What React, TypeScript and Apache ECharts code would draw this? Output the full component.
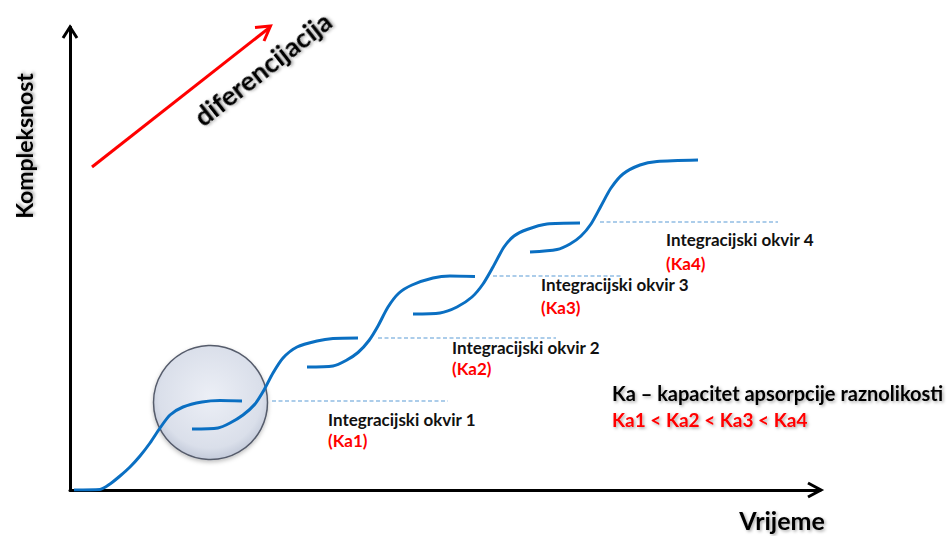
import React, { useEffect, useRef } from "react";
import * as echarts from "echarts";

// Chart units: x = time (0..150), y = complexity (0..92.6)
const curve1: [number, number][] = [
  [0.8, 0], [6, 0.1], [8, 1.2], [10, 2.8], [12, 4.6], [14, 6.8], [16, 9.4],
  [18, 12.4], [20, 15], [22.6, 16.6], [26.4, 17.6], [30, 17.9], [34.4, 17.8],
];
const curve2: [number, number][] = [
  [24.4, 12.2], [29.6, 12.4], [32, 13.4], [34.6, 15], [37, 17.2], [38.8, 20],
  [40.6, 23.4], [42.6, 26.4], [45.4, 28.6], [49.4, 29.8], [52.6, 30.3], [57.6, 30.4],
];
const curve3: [number, number][] = [
  [47.4, 24.6], [52.6, 24.8], [55.2, 25.9], [57.6, 27.5], [59.8, 29.9], [61.6, 32.8],
  [63.6, 36.6], [65.8, 39.4], [68.4, 41], [72.6, 42.4], [76, 42.8], [81, 42.7],
];
const curve4: [number, number][] = [
  [68.6, 35.2], [74, 35.4], [77.4, 36.6], [80.4, 38.6], [82.6, 41.2], [84.6, 44.6],
  [86.8, 48.6], [88.8, 50.8], [91.4, 52.1], [95.4, 53.2], [102, 53.4],
];
const curve5: [number, number][] = [
  [92, 47.6], [97.4, 48.1], [100, 49.2], [102.2, 50.8], [104.2, 53.2], [106.2, 56.8],
  [108.2, 60.4], [110.6, 63.2], [114, 65], [117.4, 65.7], [125.6, 66],
];
const curves = [curve1, curve2, curve3, curve4, curve5];

const dashLevels = [17.8, 30.4, 42.8, 53.6];
const dashStarts = [40.4, 61.6, 84.6, 106];
const dashEnds = [75.6, 97.2, 110.4, 141.6];

const frameLabels = [
  "Integracijski okvir 1",
  "Integracijski okvir 2",
  "Integracijski okvir 3",
  "Integracijski okvir 4",
];
const capacityLabels = ["(Ka1)", "(Ka2)", "(Ka3)", "(Ka4)"];
const labelPos: [number, number, number][] = [
  [328, 419, 440],
  [452, 347, 368],
  [541, 284, 307],
  [666, 239, 263],
];

const FONT = "Lato, 'Open Sans', sans-serif";
const shadow = {
  textShadowColor: "rgba(0,0,0,0.35)",
  textShadowBlur: 3,
  textShadowOffsetX: 1.5,
  textShadowOffsetY: 1.5,
};

export default function App() {
  const ref = useRef<HTMLDivElement>(null);
  useEffect(() => {
    if (!ref.current) return;
    const chart = echarts.init(ref.current, null, { renderer: "svg" });

    const series: any[] = [];
    dashLevels.forEach((y, i) => {
      series.push({
        type: "line",
        data: [[dashStarts[i], y], [dashEnds[i], y]],
        symbol: "none",
        z: 3,
        lineStyle: { color: "#5b9bd5", width: 1.1, type: [4, 2.5] },
        silent: true,
      });
    });
    curves.forEach((c) => {
      series.push({
        type: "line",
        data: c,
        symbol: "none",
        smooth: 0.25,
        z: 5,
        lineStyle: { color: "#0a6fc2", width: 3 },
        silent: true,
      });
    });

    const graphic: any[] = [
      {
        type: "circle",
        z: 1,
        shape: { cx: 210.5, cy: 402.5, r: 57 },
        style: {
          fill: new echarts.graphic.RadialGradient(0.5, 0.45, 0.6, [
            { offset: 0, color: "#eceff6" },
            { offset: 0.75, color: "#dadfea" },
            { offset: 1, color: "#b8c0d2" },
          ]),
          stroke: "#555b6b",
          lineWidth: 1.5,
          shadowColor: "rgba(0,0,0,0.25)",
          shadowBlur: 4,
          shadowOffsetY: 2,
        },
      },
      {
        type: "polyline",
        z: 10,
        shape: { points: [[63, 38], [70, 27], [77, 38]] },
        style: { stroke: "#000", lineWidth: 3, fill: "none" },
      },
      {
        type: "polyline",
        z: 10,
        shape: { points: [[808, 483], [821, 490], [808, 497]] },
        style: { stroke: "#000", lineWidth: 3, fill: "none" },
      },
      {
        type: "line",
        z: 10,
        shape: { x1: 92, y1: 167, x2: 269, y2: 28 },
        style: { stroke: "#ff0000", lineWidth: 3 },
      },
      {
        type: "polyline",
        z: 10,
        shape: { points: [[255, 27.5], [270.5, 26], [264, 41]] },
        style: { stroke: "#ff0000", lineWidth: 3, fill: "none" },
      },
      {
        type: "text",
        z: 10,
        x: 262,
        y: 68,
        rotation: (38 * Math.PI) / 180,
        style: {
          text: "diferencijacija",
          fontFamily: FONT,
          fontWeight: "bold",
          fontSize: 27,
          fill: "#000",
          align: "center",
          verticalAlign: "middle",
          ...shadow,
        },
      },
      {
        type: "text",
        z: 10,
        x: 24,
        y: 146,
        rotation: Math.PI / 2,
        style: {
          text: "Kompleksnost",
          fontFamily: FONT,
          fontWeight: "bold",
          fontSize: 23,
          fill: "#000",
          align: "center",
          verticalAlign: "middle",
          ...shadow,
        },
      },
      {
        type: "text",
        z: 10,
        x: 782,
        y: 520,
        style: {
          text: "Vrijeme",
          fontFamily: FONT,
          fontWeight: "bold",
          fontSize: 25,
          fill: "#000",
          align: "center",
          verticalAlign: "middle",
          ...shadow,
        },
      },
      {
        type: "text",
        z: 10,
        x: 612,
        y: 393,
        style: {
          text: "Ka – kapacitet apsorpcije raznolikosti",
          fontFamily: FONT,
          fontWeight: "bold",
          fontSize: 20,
          fill: "#000",
          align: "left",
          verticalAlign: "middle",
          ...shadow,
        },
      },
      {
        type: "text",
        z: 10,
        x: 612,
        y: 419,
        style: {
          text: "Ka1 < Ka2 < Ka3 < Ka4",
          fontFamily: FONT,
          fontWeight: "bold",
          fontSize: 19,
          fill: "#ff0000",
          align: "left",
          verticalAlign: "middle",
          ...shadow,
        },
      },
    ];
    frameLabels.forEach((t, i) => {
      const [x, y1, y2] = labelPos[i];
      graphic.push({
        type: "text",
        z: 10,
        x,
        y: y1,
        style: {
          text: t,
          fontFamily: FONT,
          fontWeight: "bold",
          fontSize: 17,
          fill: "#111",
          align: "left",
          verticalAlign: "middle",
        },
      });
      graphic.push({
        type: "text",
        z: 10,
        x,
        y: y2,
        style: {
          text: capacityLabels[i],
          fontFamily: FONT,
          fontWeight: "bold",
          fontSize: 17,
          fill: "#ff0000",
          align: "left",
          verticalAlign: "middle",
        },
      });
    });

    chart.setOption({
      animation: false,
      backgroundColor: "#ffffff",
      grid: { left: 70, right: 128, top: 27, bottom: 46, containLabel: false },
      xAxis: {
        type: "value",
        min: 0,
        max: 150,
        axisLine: { show: true, lineStyle: { color: "#000", width: 3 } },
        axisTick: { show: false },
        axisLabel: { show: false },
        splitLine: { show: false },
      },
      yAxis: {
        type: "value",
        min: 0,
        max: 92.6,
        axisLine: { show: true, lineStyle: { color: "#000", width: 3 } },
        axisTick: { show: false },
        axisLabel: { show: false },
        splitLine: { show: false },
      },
      series,
      graphic,
    });
    return () => chart.dispose();
  }, []);
  return (
    <div
      ref={ref}
      style={{ position: "absolute", left: 0, top: 0, width: 948, height: 536 }}
    />
  );
}
